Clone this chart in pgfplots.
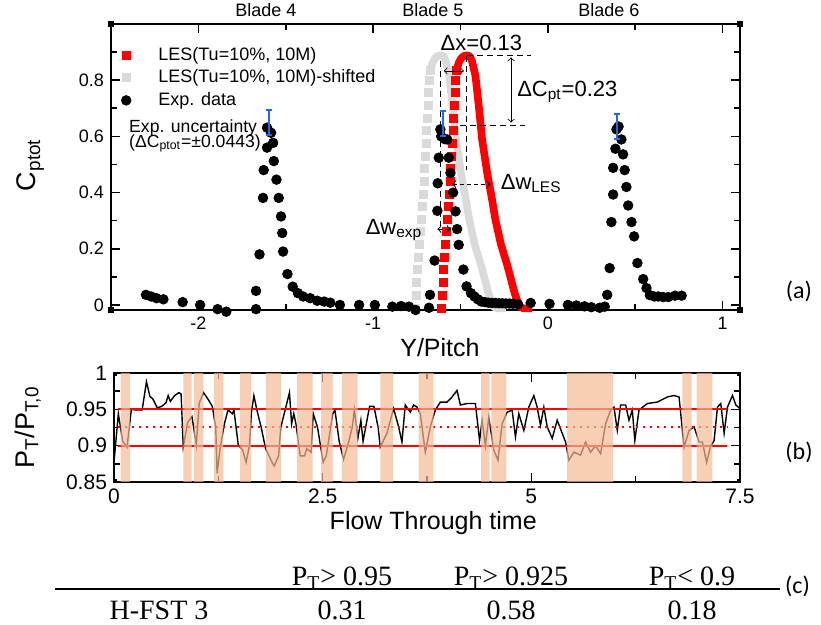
\documentclass[border=0pt]{standalone}
\usepackage{pgfplots}
\pgfplotsset{compat=1.18}
\usepackage{pgfplotstable}
\usepackage{fontspec}
\setmainfont{Liberation Sans}
\newfontfamily\timesfont{Liberation Serif}
\newfontfamily\calfont{Carlito}
\definecolor{lesred}{RGB}{255,0,0}
\definecolor{lesgray}{RGB}{218,218,218}
\definecolor{errblue}{RGB}{35,105,225}
\definecolor{peach}{RGB}{245,185,150}

\pgfplotstableread{
x y
-0.607 -0.012
-0.604 0.035
-0.600 0.080
-0.596 0.125
-0.591 0.170
-0.586 0.215
-0.581 0.260
-0.576 0.305
-0.570 0.350
-0.564 0.395
-0.559 0.440
-0.555 0.485
-0.551 0.530
-0.547 0.575
-0.543 0.620
-0.539 0.665
-0.535 0.710
-0.531 0.755
-0.527 0.800
-0.522 0.835
}\lesleft

\pgfplotstableread{
x y
-0.522 0.835
-0.510 0.862
-0.495 0.879
-0.480 0.886
-0.462 0.889
-0.445 0.884
-0.433 0.866
-0.414 0.815
-0.395 0.708
-0.376 0.589
-0.347 0.470
-0.319 0.375
-0.300 0.304
-0.268 0.215
-0.230 0.137
-0.190 0.042
-0.163 -0.006
-0.140 -0.012
-0.090 -0.012
}\lesright

\pgfplotstableread{
x y
-2.300 0.036
-2.270 0.030
-2.240 0.024
-2.200 0.020
-2.090 0.010
-1.990 0.000
-1.890 -0.015
-1.840 -0.024
-1.670 -0.015
-1.670 0.050
-1.650 0.180
-1.630 0.381
-1.626 0.480
-1.607 0.560
-1.607 0.631
-1.584 0.613
-1.572 0.577
-1.568 0.512
-1.553 0.446
-1.540 0.381
-1.527 0.315
-1.520 0.256
-1.515 0.190
-1.490 0.110
-1.460 0.065
-1.430 0.042
-1.400 0.030
-1.360 0.024
-1.320 0.015
-1.280 0.012
-1.245 0.008
-1.190 0.000
-1.080 0.000
-0.990 0.000
-0.890 -0.006
-0.840 -0.004
-0.795 -0.006
-0.757 -0.018
-0.680 -0.010
-0.674 0.036
-0.648 0.158
-0.632 0.335
-0.630 0.433
-0.624 0.524
-0.615 0.625
-0.610 0.600
-0.590 0.590
-0.576 0.589
-0.567 0.524
-0.557 0.470
-0.542 0.400
-0.528 0.333
-0.519 0.270
-0.510 0.214
-0.483 0.126
-0.465 0.066
-0.440 0.042
-0.420 0.030
-0.400 0.020
-0.380 0.012
-0.360 0.010
-0.340 0.008
-0.320 0.007
-0.300 0.007
-0.280 0.006
-0.260 0.006
-0.240 0.005
-0.220 0.005
-0.200 0.004
-0.170 0.002
-0.098 0.007
0.010 0.004
0.115 0.000
0.163 -0.002
0.210 -0.005
0.249 -0.008
0.297 -0.010
0.326 -0.006
0.340 0.036
0.354 0.131
0.364 0.295
0.374 0.393
0.374 0.488
0.387 0.556
0.393 0.625
0.405 0.635
0.421 0.589
0.431 0.536
0.440 0.480
0.450 0.420
0.460 0.354
0.479 0.295
0.494 0.244
0.513 0.149
0.546 0.092
0.565 0.060
0.584 0.035
0.610 0.030
0.632 0.030
0.660 0.028
0.690 0.028
0.728 0.033
0.766 0.033
}\expdata

\pgfplotstableread{
t p
0.000 0.877
0.052 0.944
0.104 0.906
0.156 0.898
0.208 0.950
0.270 0.949
0.337 0.949
0.389 0.988
0.430 0.968
0.467 0.964
0.519 0.952
0.571 0.954
0.623 0.959
0.649 0.969
0.675 0.961
0.727 0.969
0.778 0.973
0.804 0.971
0.830 0.898
0.882 0.932
0.934 0.940
0.986 0.901
1.022 0.959
1.074 0.973
1.126 0.964
1.178 0.954
1.219 0.925
1.235 0.862
1.271 0.896
1.323 0.930
1.365 0.949
1.417 0.944
1.437 0.949
1.489 0.901
1.541 0.894
1.583 0.877
1.624 0.901
1.645 0.944
1.676 0.969
1.712 0.949
1.764 0.925
1.816 0.896
1.894 0.877
1.920 0.872
1.972 0.886
1.998 0.925
2.050 0.949
2.102 0.973
2.128 0.930
2.154 0.944
2.180 0.930
2.231 0.886
2.283 0.886
2.309 0.896
2.361 0.891
2.387 0.944
2.439 0.925
2.506 0.877
2.543 0.886
2.621 0.944
2.647 0.949
2.698 0.906
2.750 0.881
2.802 0.901
2.854 0.925
2.880 0.949
2.922 0.910
2.958 0.935
2.984 0.906
3.062 0.954
3.114 0.954
3.165 0.925
3.190 0.898
3.270 0.917
3.350 0.951
3.410 0.926
3.450 0.905
3.490 0.956
3.550 0.946
3.590 0.956
3.630 0.953
3.670 0.944
3.730 0.891
3.790 0.926
3.850 0.949
3.910 0.960
3.990 0.960
4.050 0.967
4.110 0.976
4.150 0.956
4.230 0.958
4.330 0.958
4.380 0.907
4.410 0.935
4.450 0.900
4.490 0.939
4.550 0.894
4.600 0.880
4.650 0.930
4.710 0.946
4.770 0.949
4.810 0.912
4.850 0.944
4.910 0.921
4.970 0.953
5.030 0.969
5.070 0.953
5.110 0.928
5.150 0.953
5.190 0.926
5.250 0.910
5.310 0.935
5.370 0.917
5.410 0.905
5.450 0.880
5.510 0.891
5.590 0.887
5.650 0.905
5.710 0.891
5.770 0.900
5.830 0.889
5.890 0.930
5.950 0.949
5.990 0.953
6.030 0.921
6.070 0.956
6.130 0.956
6.170 0.935
6.210 0.949
6.240 0.907
6.290 0.949
6.390 0.958
6.510 0.960
6.630 0.967
6.710 0.969
6.770 0.967
6.830 0.898
6.890 0.921
6.950 0.926
7.010 0.905
7.050 0.905
7.100 0.877
7.150 0.900
7.190 0.907
7.230 0.953
7.270 0.958
7.310 0.917
7.350 0.953
7.410 0.969
7.450 0.956
7.500 0.951
}\ptseries

\begin{document}
\begin{tikzpicture}
\path[use as bounding box] (0,0) rectangle (410.5pt,-312.5pt);

% ---------------- (a) ----------------
\begin{axis}[
  at={(55.5pt,-155pt)}, anchor=south west, scale only axis,
  width=314.5pt, height=143pt,
  xmin=-2.5, xmax=1.1, ymin=-0.018, ymax=1,
  clip=false, clip marker paths=true,
  xtick={-2,-1,0,1}, minor xtick={-1.5,-0.5,0.5},
  ytick={0,0.2,0.4,0.6,0.8}, minor ytick={0.1,0.3,0.5,0.7,0.9},
  tick align=inside, major tick length=4.5pt, minor tick length=3pt,
  every tick/.style={black, line width=0.8pt},
  axis line style={line width=1pt},
  /pgf/number format/assume math mode=true,
  ticklabel style={font=\fontsize{9}{10}\selectfont},
  xlabel={Y/Pitch}, ylabel={C\textsubscript{ptot}},
  xlabel style={font=\fontsize{12.5}{14}\selectfont, at={(axis description cs:0.523,-0.133)}, anchor=center},
  ylabel style={font=\fontsize{13.5}{15}\selectfont, at={(axis description cs:-0.128,0.507)}, anchor=center},
  legend style={at={(axis description cs:0,1)}, anchor=north west, xshift=5pt, yshift=-10.5pt,
    draw=none, fill=none, inner sep=0pt, row sep=1.25pt,
    font=\fontsize{9}{10}\selectfont,
    nodes={inner sep=1pt, text height=6.5pt, text depth=1.5pt},
    /tikz/every odd column/.append style={column sep=12.7pt}},
  legend cell align=left,
]
\addlegendimage{only marks, mark=square*, mark size=2pt, lesred}
\addlegendentry{LES(Tu=10\%, 10M)}
\addlegendimage{only marks, mark=square*, mark size=2pt, lesgray}
\addlegendentry{LES(Tu=10\%, 10M)-shifted}
\addlegendimage{only marks, mark=*, mark size=2.4pt, black}
\addlegendentry{Exp. data}

\addplot[only marks, mark=square*, mark size=2pt, lesgray, forget plot] table[x expr=\thisrow{x}-0.15, y=y]{\lesleft};
\addplot[lesgray, line width=3.8pt, line join=round, forget plot] table[x expr=\thisrow{x}-0.15, y=y]{\lesright};
\addplot[only marks, mark=square*, mark size=2pt, lesred, forget plot] table[x=x,y=y]{\lesleft};
\addplot[lesred, line width=3.8pt, line join=round, forget plot] table[x=x,y=y]{\lesright};

\draw[dash pattern=on 3pt off 2pt, line width=0.6pt] (axis cs:-0.614,0.87) -- (axis cs:-0.614,0.27);
\draw[dash pattern=on 3pt off 2pt, line width=0.6pt] (axis cs:-0.465,0.887) -- (axis cs:-0.465,0.48);
\draw[dash pattern=on 3pt off 2pt, line width=0.6pt] (axis cs:-0.462,0.889) -- (axis cs:-0.099,0.889);
\draw[dash pattern=on 3pt off 2pt, line width=0.6pt] (axis cs:-0.5,0.64) -- (axis cs:-0.128,0.64);
\draw[<->, line width=0.4pt] (axis cs:-0.595,0.833) -- (axis cs:-0.48,0.833);
\draw[<->, line width=0.4pt] (axis cs:-0.21,0.881) -- (axis cs:-0.21,0.649);
\draw[<->, dash pattern=on 2pt off 1.5pt, line width=0.5pt] (axis cs:-0.548,0.43) -- (axis cs:-0.328,0.43);
\draw[<->, dash pattern=on 2pt off 1.5pt, line width=0.5pt] (axis cs:-0.632,0.27) -- (axis cs:-0.555,0.27);

\addplot[only marks, mark=*, mark size=2.4pt, black, forget plot] table[x=x,y=y]{\expdata};

% experimental uncertainty bars: C = 0.649, 0.646, 0.636 +- 0.0443
\addplot[errblue, line width=1pt, forget plot] coordinates {(-1.597,0.6047) (-1.597,0.6933)};
\addplot[errblue, line width=1pt, forget plot] coordinates {(-1.614,0.6933) (-1.580,0.6933)};
\addplot[errblue, line width=1pt, forget plot] coordinates {(-1.614,0.6047) (-1.580,0.6047)};
\addplot[errblue, line width=1pt, forget plot] coordinates {(-0.599,0.6017) (-0.599,0.6903)};
\addplot[errblue, line width=1pt, forget plot] coordinates {(-0.616,0.6903) (-0.582,0.6903)};
\addplot[errblue, line width=1pt, forget plot] coordinates {(-0.616,0.6017) (-0.582,0.6017)};
\addplot[errblue, line width=1pt, forget plot] coordinates {(0.397,0.5917) (0.397,0.6803)};
\addplot[errblue, line width=1pt, forget plot] coordinates {(0.380,0.6803) (0.414,0.6803)};
\addplot[errblue, line width=1pt, forget plot] coordinates {(0.380,0.5917) (0.414,0.5917)};

\node[anchor=base, font=\fontsize{9}{10}\selectfont, yshift=3.5pt] at (axis cs:-1.614,1) {Blade 4};
\node[anchor=base, font=\fontsize{9}{10}\selectfont, yshift=3.5pt] at (axis cs:-0.658,1) {Blade 5};
\node[anchor=base, font=\fontsize{9}{10}\selectfont, yshift=3.5pt] at (axis cs:0.349,1) {Blade 6};

\node[anchor=base, inner sep=0pt, font=\fontsize{11}{12}\selectfont] at (axis cs:-0.38,0.905) {Δx=0.13};
\node[anchor=base west, inner sep=0pt, font=\fontsize{11}{12}\selectfont] at (axis cs:-0.177,0.743) {ΔC\textsubscript{pt}=0.23};
\node[anchor=base west, inner sep=0pt, font=\fontsize{11}{12}\selectfont] at (axis cs:-0.271,0.411) {Δw\textsubscript{LES}};
\node[anchor=base west, inner sep=0pt, font=\fontsize{11}{12}\selectfont] at (axis cs:-1.044,0.25) {Δw\textsubscript{exp}};
\node[anchor=base west, inner sep=0pt, font=\fontsize{8.8}{9}\selectfont] at (axis cs:-2.398,0.614) {Exp. uncertainty};
\node[anchor=base west, inner sep=0pt, font=\fontsize{8.8}{9}\selectfont] at (axis cs:-2.398,0.561) {(ΔC\textsubscript{ptot}=±0.0443)};

\fill[black] (axis description cs:0,0) ++(-1.5pt,-1.5pt) rectangle ++(3pt,3pt);
\fill[black] (axis description cs:0,1) ++(-1.5pt,-1.5pt) rectangle ++(3pt,3pt);
\fill[black] (axis description cs:1,0) ++(-1.5pt,-1.5pt) rectangle ++(3pt,3pt);
\fill[black] (axis description cs:1,1) ++(-1.5pt,-1.5pt) rectangle ++(3pt,3pt);
\end{axis}

% ---------------- (b) ----------------
\begin{axis}[
  at={(57pt,-241pt)}, anchor=south west, scale only axis,
  width=313pt, height=54.5pt,
  xmin=0, xmax=7.5, ymin=0.85, ymax=1,
  xtick={0,2.5,5,7.5}, minor xtick={1.25,3.75,6.25},
  ytick={0.85,0.9,0.95,1}, minor ytick={0.875,0.925,0.975},
  tick align=inside, major tick length=4.5pt, minor tick length=3pt,
  every tick/.style={black, line width=0.8pt},
  axis line style={line width=1pt},
  /pgf/number format/assume math mode=true,
  ticklabel style={font=\fontsize{10.5}{12}\selectfont},
  xlabel={Flow Through time}, ylabel={P\textsubscript{T}/P\textsubscript{T,0}},
  xlabel style={font=\fontsize{12.5}{14}\selectfont, at={(axis description cs:0.51,-0.38)}, anchor=center},
  ylabel style={font=\fontsize{13.5}{15}\selectfont, at={(axis description cs:-0.138,0.5)}, anchor=center},
]
\addplot[black, line width=0.7pt] table[x=t, y=p]{\ptseries};
\addplot[color=lesred, line width=1pt] coordinates {(0.05,0.95) (7.35,0.95)};
\addplot[color=lesred, line width=1pt] coordinates {(0.05,0.9) (7.35,0.9)};
\addplot[color=lesred, line width=1pt, dash pattern=on 1pt off 2.5pt] coordinates {(0.05,0.925) (7.35,0.925)};
\addplot[ybar interval, fill=peach, draw=none, fill opacity=0.7] coordinates {
 (0.08,1) (0.19,0) (0.83,1) (0.93,0) (0.96,1) (1.07,0) (1.20,1) (1.31,0)
 (1.51,1) (1.64,0) (1.82,1) (2.00,0) (2.19,1) (2.38,0) (2.48,1) (2.62,0)
 (2.73,1) (2.92,0) (3.19,1) (3.34,0) (3.65,1) (3.83,0) (4.40,1) (4.50,0)
 (4.52,1) (4.70,0) (5.43,1) (5.98,0) (6.81,1) (6.92,0) (6.98,1) (7.17,0)
};
\fill[black] (axis description cs:0,0) ++(-1.5pt,-1.5pt) rectangle ++(3pt,3pt);
\fill[black] (axis description cs:0,1) ++(-1.5pt,-1.5pt) rectangle ++(3pt,3pt);
\fill[black] (axis description cs:1,0) ++(-1.5pt,-1.5pt) rectangle ++(3pt,3pt);
\fill[black] (axis description cs:1,1) ++(-1.5pt,-1.5pt) rectangle ++(3pt,3pt);
\end{axis}

% ---------------- panel labels and table (c) ----------------
\node[font=\calfont\fontsize{12}{13}\selectfont] at (399.5pt,-145.5pt) {(a)};
\node[font=\calfont\fontsize{12}{13}\selectfont] at (399.5pt,-226pt) {(b)};
\node[font=\calfont\fontsize{12}{13}\selectfont] at (398.75pt,-293.25pt) {(c)};

\draw[line width=0.75pt] (27.5pt,-294.5pt) -- (390pt,-294.5pt);
\begin{scope}[every node/.style={font=\timesfont\fontsize{14}{15}\selectfont, inner sep=0pt}]
\node[anchor=base] at (171pt,-292.75pt) {P\textsubscript{T}> 0.95};
\node[anchor=base] at (255.5pt,-292.75pt) {P\textsubscript{T}> 0.925};
\node[anchor=base] at (346pt,-292.75pt) {P\textsubscript{T}< 0.9};
\node[anchor=base] at (79.5pt,-310pt) {H-FST 3};
\node[anchor=base] at (171pt,-310pt) {0.31};
\node[anchor=base] at (255.5pt,-310pt) {0.58};
\node[anchor=base] at (346pt,-310pt) {0.18};
\end{scope}
\end{tikzpicture}
\end{document}
